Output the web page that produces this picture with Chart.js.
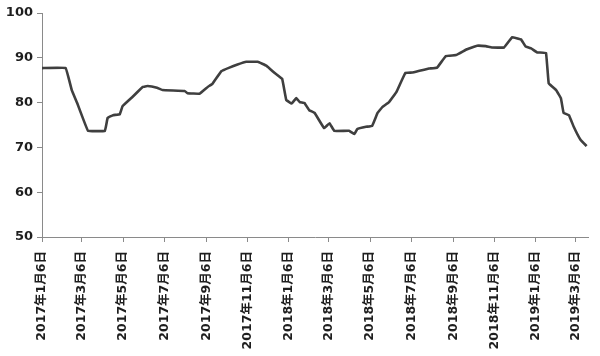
<!DOCTYPE html>
<html>
<head>
<meta charset="utf-8">
<script src="https://cdn.jsdelivr.net/npm/chart.js@4/dist/chart.umd.min.js"></script>
<style>
  html, body { margin: 0; padding: 0; background: #fff; }
  #wrap { width: 600px; height: 356px; position: relative; }
</style>
</head>
<body>
<div id="wrap"><canvas id="chart"></canvas></div>
<script>
// days counted from 2017-01-06
const dayOffsets = [0, 35, 44, 52, 68, 93, 97, 105, 115, 119, 134, 149, 156, 170, 178, 211, 215, 233,
  245, 252, 265, 277, 289, 302, 319, 332, 344, 355, 361, 369, 376, 381, 388, 395, 403, 417, 425, 432,
  454, 462, 466, 479, 488, 496, 503, 513, 524, 537, 547, 558, 572, 584, 597, 612, 628, 643, 656, 665,
  683, 695, 708, 715, 723, 732, 745, 749, 760, 767, 771, 779, 786, 796, 805];
const values = [87.7, 87.7, 82.8, 79.9, 73.7, 73.7, 76.6, 77.2, 77.4, 79.2, 81.3, 83.5, 83.7, 83.3, 82.8, 82.6, 82.1, 82.0,
  83.5, 84.2, 87.0, 87.8, 88.5, 89.1, 89.1, 88.2, 86.6, 85.3, 80.6, 79.8, 81.0, 80.1, 79.9, 78.3, 77.7, 74.3, 75.4, 73.7,
  73.7, 73.0, 74.1, 74.6, 74.8, 77.7, 79.0, 80.1, 82.4, 86.6, 86.7, 87.1, 87.6, 87.8, 90.4, 90.6, 91.9, 92.7, 92.6, 92.3,
  92.3, 94.6, 94.1, 92.5, 92.1, 91.2, 91.1, 84.3, 82.8, 81.0, 77.7, 77.2, 74.6, 71.7, 70.3];

const tickDays = [0, 59, 120, 181, 243, 304, 365, 424, 485, 546, 608, 669, 730, 789];
const tickLabels = ['2017年1月6日', '2017年3月6日', '2017年5月6日', '2017年7月6日', '2017年9月6日', '2017年11月6日',
  '2018年1月6日', '2018年3月6日', '2018年5月6日', '2018年7月6日', '2018年9月6日', '2018年11月6日',
  '2019年1月6日', '2019年3月6日'];
const yTicks = [50, 60, 70, 80, 90, 100];

const axisColor = '#8a8a8a';
const font = { family: '"DejaVu Sans", "Noto Sans CJK SC", sans-serif', size: 12.5, weight: 'bold' };

new Chart(document.getElementById('chart'), {
  type: 'line',
  data: {
    datasets: [{
      data: dayOffsets.map((d, i) => ({ x: d, y: values[i] })),
      borderColor: '#3f3f3f',
      borderWidth: 2.6,
      pointRadius: 0,
      tension: 0.05,
      fill: false
    }]
  },
  options: {
    responsive: true,
    maintainAspectRatio: false,
    animation: false,
    layout: { padding: { left: 0, top: 13, right: 10, bottom: 0 } },
    plugins: { legend: { display: false }, tooltip: { enabled: false } },
    scales: {
      x: {
        type: 'linear',
        min: 0,
        max: 808,
        afterBuildTicks: axis => { axis.ticks = tickDays.map(v => ({ value: v })); },
        afterFit: s => { s.height = 119; },
        grid: { drawOnChartArea: false, drawTicks: true, tickLength: 5, color: axisColor },
        border: { display: true, color: axisColor, width: 1 },
        ticks: {
          autoSkip: false,
          maxRotation: 90,
          minRotation: 90,
          padding: 9,
          color: '#1e1e1e',
          font: font,
          callback: v => tickLabels[tickDays.indexOf(v)]
        }
      },
      y: {
        min: 50,
        max: 100,
        afterBuildTicks: axis => { axis.ticks = yTicks.map(v => ({ value: v })); },
        afterFit: s => { s.width = 42; },
        grid: { drawOnChartArea: false, drawTicks: true, tickLength: 5, color: axisColor },
        border: { display: true, color: axisColor, width: 1 },
        ticks: { padding: 4, color: '#1e1e1e', font: { ...font, size: 13 } }
      }
    }
  }
});
</script>
</body>
</html>
